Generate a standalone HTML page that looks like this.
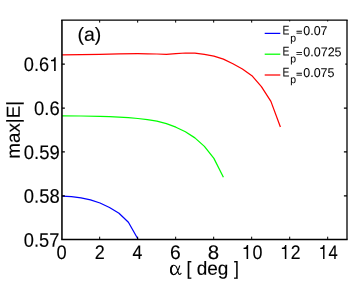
<!DOCTYPE html>
<html><head><meta charset="utf-8"><title>fig</title>
<style>
html,body{margin:0;padding:0;background:#fff;}
body{width:357px;height:285px;overflow:hidden;}
svg{display:block;will-change:transform;}
text{font-family:"Liberation Sans",sans-serif;fill:#000;text-rendering:geometricPrecision;stroke:#000;stroke-width:0.14px;}
.lg text{stroke-width:0.06px;}
.h{fill:none;stroke:none;}
</style></head><body>
<svg width="357" height="285" viewBox="0 0 357 285">
<rect x="0" y="0" width="357" height="285" fill="#fff"/>
<polyline points="62.0,54.9 81.0,54.6 100.0,54.3 119.0,53.9 137.9,53.7 147.4,53.8 156.9,54.0 166.4,54.3 175.9,53.6 185.4,53.0 194.9,53.1 204.4,54.4 213.9,56.1 223.4,59.1 232.9,63.7 242.4,69.0 251.9,75.7 261.4,86.6 270.9,101.4 280.4,127.0" fill="none" stroke="#ff0000" stroke-width="1.25" stroke-linejoin="round"/>
<polyline points="62.0,115.9 81.0,116.0 100.0,116.3 109.5,116.7 119.0,117.1 128.4,117.7 137.9,118.5 147.4,119.6 156.9,121.1 166.4,123.6 175.9,127.2 185.4,131.8 194.9,137.9 204.4,146.4 213.9,158.4 223.4,177.2" fill="none" stroke="#00ff00" stroke-width="1.25" stroke-linejoin="round"/>
<polyline points="62.0,196.2 71.5,196.7 81.0,197.9 90.5,199.9 100.0,203.0 109.5,207.5 119.0,213.2 128.4,222.2 137.9,239.0" fill="none" stroke="#0000ff" stroke-width="1.25" stroke-linejoin="round"/>
<path d="M61.2 20.1 H347.65 M61.2 239.5 H347.65" stroke="#000" stroke-width="1.4" fill="none"/>
<path d="M61.95 20.1 V239.5" stroke="#000" stroke-width="1.55" fill="none"/>
<path d="M347.0 20.1 V239.5" stroke="#000" stroke-width="1.3" fill="none"/>
<path d="M99.66 239.5 v-2.8 M99.66 20.1 v2.5 M137.66 239.5 v-2.8 M137.66 20.1 v2.5 M175.67 239.5 v-2.8 M175.67 20.1 v2.5 M213.68 239.5 v-2.8 M213.68 20.1 v2.5 M251.68 239.5 v-2.8 M251.68 20.1 v2.5 M289.69 239.5 v-2.8 M289.69 20.1 v2.5 M327.70 239.5 v-2.8 M327.70 20.1 v2.5" stroke="#000" stroke-width="1.0" fill="none"/>
<path d="M61.95 195.82 h2.9 M347.0 195.82 h-3.1 M61.95 151.94 h2.9 M347.0 151.94 h-3.1 M61.95 108.06 h2.9 M347.0 108.06 h-3.1 M61.95 64.18 h2.9 M347.0 64.18 h-3.1" stroke="#000" stroke-width="1.3" fill="none"/>
<rect x="262" y="21.45" width="83.3" height="63" fill="#fff"/>
<line x1="264.7" x2="280.3" y1="33.4" y2="33.4" stroke="#0000ff" stroke-width="1.25"/>
<line x1="264.7" x2="280.3" y1="54.2" y2="54.2" stroke="#00ff00" stroke-width="1.25"/>
<line x1="264.7" x2="280.3" y1="75.0" y2="75.0" stroke="#ff0000" stroke-width="1.25"/>
<text transform="translate(23.84,71.10) rotate(0.05) scale(0.9246,1)" style="font-size:19.7px;">0.6<tspan class="h">1</tspan></text>
<path transform="translate(49.16,71.10) scale(0.01822,-0.01970)" d="M359,0 L271,0 L271,505 L102,505 L102,568 C215,573 263,600 289,709 L359,709 Z" fill="#000"/>
<text transform="translate(34.03,115.00) rotate(0.05) scale(0.9359,1)" style="font-size:19.7px;">0.6</text>
<text transform="translate(23.83,158.90) rotate(0.05) scale(0.9362,1)" style="font-size:19.7px;">0.59</text>
<text transform="translate(23.83,202.85) rotate(0.05) scale(0.9342,1)" style="font-size:19.7px;">0.58</text>
<text transform="translate(23.84,246.80) rotate(0.05) scale(0.9267,1)" style="font-size:19.7px;">0.57</text>
<text transform="translate(56.60,259.00) rotate(0.05) scale(0.9281,1)" style="font-size:19.7px;">0</text>
<text transform="translate(94.74,259.00) rotate(0.05) scale(0.9137,1)" style="font-size:19.7px;">2</text>
<text transform="translate(132.54,259.00) rotate(0.05) scale(0.8965,1)" style="font-size:19.7px;">4</text>
<text transform="translate(169.97,259.00) rotate(0.05) scale(0.9791,1)" style="font-size:19.7px;">6</text>
<text transform="translate(207.76,259.00) rotate(0.05) scale(1.0385,1)" style="font-size:19.7px;">8</text>
<text transform="translate(242.52,259.00) rotate(0.05) scale(0.9094,1)" style="font-size:19.7px;"><tspan class="h">1</tspan>0</text>
<path transform="translate(241.72,259.00) scale(0.01792,-0.01970)" d="M359,0 L271,0 L271,505 L102,505 L102,568 C215,573 263,600 289,709 L359,709 Z" fill="#000"/>
<text transform="translate(280.85,259.00) rotate(0.05) scale(0.8936,1)" style="font-size:19.7px;"><tspan class="h">1</tspan>2</text>
<path transform="translate(280.05,259.00) scale(0.01760,-0.01970)" d="M359,0 L271,0 L271,505 L102,505 L102,568 C215,573 263,600 289,709 L359,709 Z" fill="#000"/>
<text transform="translate(319.36,259.00) rotate(0.05) scale(0.8434,1)" style="font-size:19.7px;"><tspan class="h">1</tspan>4</text>
<path transform="translate(318.56,259.00) scale(0.01662,-0.01970)" d="M359,0 L271,0 L271,505 L102,505 L102,568 C215,573 263,600 289,709 L359,709 Z" fill="#000"/>
<text transform="translate(77.44,40.80) rotate(0.05) scale(1.0233,1.0000)" style="font-family:'Liberation Sans',sans-serif;font-size:19px;">(a)</text>
<text transform="translate(186.49,274.70) rotate(0.05) scale(0.9269,1.0000)" style="font-family:'Liberation Sans',sans-serif;font-size:19.0px;">[</text>
<text transform="translate(196.65,274.70) rotate(0.05) scale(1.0007,1.0000)" style="font-family:'Liberation Sans',sans-serif;font-size:19.0px;">deg</text>
<text transform="translate(234.11,274.70) rotate(0.05) scale(0.9269,1.0000)" style="font-family:'Liberation Sans',sans-serif;font-size:19.0px;">]</text>
<text class="h" x="171" y="274.7" style="font-size:19px">α</text>
<path d="M179.8,265.5 C178.8,269 176.6,274.6 173.5,274.6 C171.5,274.6 170.7,272.5 170.7,270 C170.7,267.4 171.8,265.3 173.9,265.3 C176.3,265.3 177.3,268.5 177.9,271.3 C178.3,273.3 178.8,274.4 179.7,274.4 C180.5,274.4 181.0,273.7 181.3,272.9" fill="none" stroke="#000" stroke-width="1.05" stroke-linecap="butt"/>
<path d="M172.6,274.0 C171.4,273.4 170.9,271.8 170.9,270 C170.9,268.2 171.5,266.6 172.7,265.8" fill="none" stroke="#000" stroke-width="1.7"/>
<text transform="translate(19.7,158.65) rotate(-89.95)" style="font-size:18.8px">max|E|</text>
<g class="lg">
<text transform="translate(282.50,34.40) rotate(0.05) scale(0.8072,1.0000)" style="font-family:'Liberation Sans',sans-serif;font-size:12.8px;">E</text>
<text transform="translate(290.28,41.50) rotate(0.05) scale(0.9860,1.0000)" style="font-family:'Liberation Sans',sans-serif;font-size:10.6px;">p</text>
<text transform="translate(296.25,34.75) rotate(0.05) scale(0.8436,0.6400)" style="font-family:'Liberation Sans',sans-serif;font-size:12.2px;stroke:#000;stroke-width:0.5px;">=</text>
<text transform="translate(303.26,35.00) rotate(0.05) scale(0.9719,1.0000)" style="font-family:'Liberation Sans',sans-serif;font-size:12.8px;">0.07</text>
<text transform="translate(282.50,55.60) rotate(0.05) scale(0.8072,1.0000)" style="font-family:'Liberation Sans',sans-serif;font-size:12.8px;">E</text>
<text transform="translate(290.28,62.30) rotate(0.05) scale(0.9860,1.0000)" style="font-family:'Liberation Sans',sans-serif;font-size:10.6px;">p</text>
<text transform="translate(296.25,55.95) rotate(0.05) scale(0.8436,0.6400)" style="font-family:'Liberation Sans',sans-serif;font-size:12.2px;stroke:#000;stroke-width:0.5px;">=</text>
<text transform="translate(303.26,56.20) rotate(0.05) scale(0.9787,1.0000)" style="font-family:'Liberation Sans',sans-serif;font-size:12.8px;">0.0725</text>
<text transform="translate(282.50,76.45) rotate(0.05) scale(0.8072,1.0000)" style="font-family:'Liberation Sans',sans-serif;font-size:12.8px;">E</text>
<text transform="translate(290.28,83.10) rotate(0.05) scale(0.9860,1.0000)" style="font-family:'Liberation Sans',sans-serif;font-size:10.6px;">p</text>
<text transform="translate(296.25,76.80) rotate(0.05) scale(0.8436,0.6400)" style="font-family:'Liberation Sans',sans-serif;font-size:12.2px;stroke:#000;stroke-width:0.5px;">=</text>
<text transform="translate(303.26,77.05) rotate(0.05) scale(0.9744,1.0000)" style="font-family:'Liberation Sans',sans-serif;font-size:12.8px;">0.075</text>
</g>
</svg>
</body></html>
